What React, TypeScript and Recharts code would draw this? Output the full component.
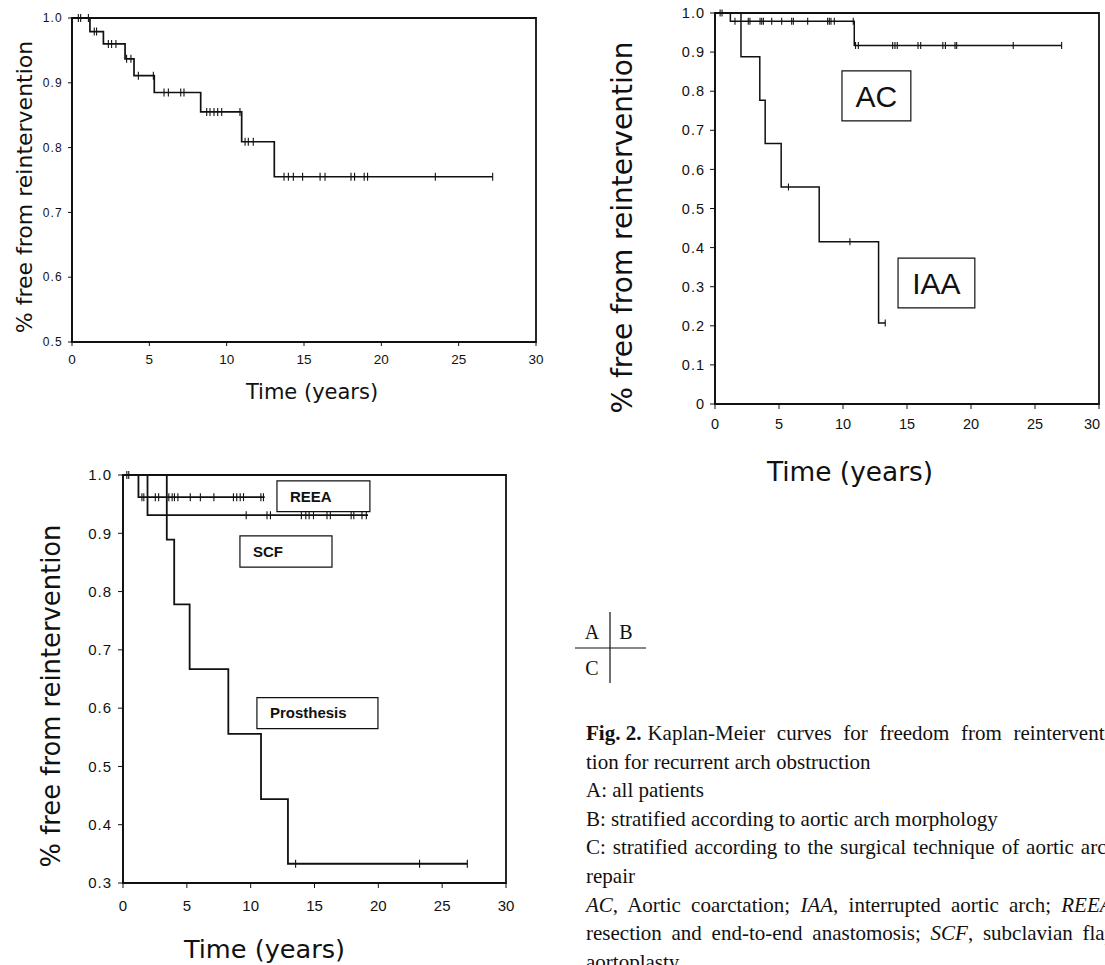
import React from "react";
import { ComposedChart, Line, Scatter, XAxis, YAxis, ReferenceArea } from "recharts";

const INK = "#111";
const SANS = "'Liberation Sans', Arial, sans-serif";
const TITLE = "'DejaVu Sans', Verdana, sans-serif";
const SERIF = "'Liberation Serif', 'Times New Roman', serif";

const yearTicks = [0, 5, 10, 15, 20, 25, 30];
const ticksA = [0.5, 0.6, 0.7, 0.8, 0.9, 1.0];
const ticksB = [0, 0.1, 0.2, 0.3, 0.4, 0.5, 0.6, 0.7, 0.8, 0.9, 1.0];
const ticksC = [0.3, 0.4, 0.5, 0.6, 0.7, 0.8, 0.9, 1.0];

// A: all patients
const allTimes = [0, 1.16, 2.03, 3.43, 4.01, 5.32, 8.32, 10.97, 13.08, 27.2];
const allSurv = [1.0, 0.979, 0.96, 0.937, 0.911, 0.885, 0.855, 0.809, 0.755, 0.755];
const allCensored = [
  0.41, 0.56, 1.06, 1.44, 1.59, 2.35, 2.56, 2.84, 3.53, 3.81, 4.29, 5.26, 5.95, 6.23, 7.03, 7.24,
  8.71, 8.92, 9.18, 9.42, 9.68, 10.86, 11.19, 11.4, 11.72, 13.71, 13.99, 14.31, 14.91, 16.04,
  16.36, 18.04, 18.27, 18.89, 19.11, 23.49, 27.2,
];

// B: aortic coarctation / interrupted aortic arch
const acTimes = [0, 1.2, 10.88, 27.08];
const acSurv = [1.0, 0.979, 0.917, 0.917];
const acCensored = [
  0.4, 0.55, 1.56, 2.6, 2.73, 3.52, 3.65, 3.78, 4.43, 5.21, 5.99, 6.12, 7.24, 8.8, 8.93, 9.06,
  9.32, 10.8, 10.98, 11.2, 13.88, 14.06, 14.24, 15.86, 16.07, 17.8, 18.0, 18.75, 18.88, 23.3, 27.08,
];
const iaaTimes = [0, 2.03, 3.5, 3.92, 5.17, 8.14, 12.78, 13.3];
const iaaSurv = [1.0, 0.888, 0.777, 0.666, 0.555, 0.415, 0.207, 0.207];
const iaaCensored = [5.74, 10.54, 13.3];

// C: surgical technique
const reeaTimes = [0, 1.21, 11.1];
const reeaSurv = [1.0, 0.962, 0.962];
const reeaCensored = [
  0.3, 0.45, 1.48, 1.63, 2.53, 2.79, 3.59, 3.85, 4.03, 4.3, 5.27, 6.06, 7.12, 8.65, 8.91, 9.18,
  9.44, 10.8, 11.0,
];
const scfTimes = [0, 1.92, 19.19];
const scfSurv = [1.0, 0.931, 0.931];
const scfCensored = [9.65, 11.28, 11.55, 13.97, 14.32, 14.58, 14.92, 15.98, 16.24, 17.87, 18.08, 18.72, 19.06];
const prosTimes = [0, 3.43, 4.01, 5.22, 8.25, 10.81, 12.92, 26.97];
const prosSurv = [1.0, 0.889, 0.778, 0.667, 0.556, 0.444, 0.333, 0.333];
const prosCensored = [13.52, 23.23, 26.97];

// boxed labels (data coords)
const notesB = [
  { text: "AC", x1: 9.92, x2: 15.3, y1: 0.724, y2: 0.852 },
  { text: "IAA", x1: 14.3, x2: 20.3, y1: 0.246, y2: 0.373 },
];
const notesC = [
  { text: "REEA", x1: 12.06, x2: 19.34, y1: 0.937, y2: 0.99 },
  { text: "SCF", x1: 9.16, x2: 16.37, y1: 0.842, y2: 0.8955 },
  { text: "Prosthesis", x1: 10.49, x2: 19.97, y1: 0.565, y2: 0.618 },
];

type Seg = { text: string; b?: boolean; i?: boolean; dx?: number };
const caption: Seg[][] = [
  [{ text: "Fig. 2.", b: true }, { text: "Kaplan-Meier curves for freedom from reintervention", dx: 6 }],
  [{ text: "tion for recurrent arch obstruction" }],
  [{ text: "A: all patients" }],
  [{ text: "B: stratified according to aortic arch morphology" }],
  [{ text: "C: stratified according to the surgical technique of aortic arch" }],
  [{ text: "repair" }],
  [
    { text: "AC", i: true },
    { text: ", Aortic coarctation; " },
    { text: "IAA", i: true },
    { text: ", interrupted aortic arch; " },
    { text: "REEA", i: true },
    { text: "," },
  ],
  [{ text: "resection and end-to-end anastomosis; " }, { text: "SCF", i: true }, { text: ", subclavian flap" }],
  [{ text: "aortoplasty." }],
];
// the printed caption is justified: extra space between words per line
const captionWordGap = [6.4, 0, 0, 0, 1.7, 0, 5, 4.5, 0];

type Pt = { t: number; s: number };
const toSteps = (times: number[], surv: number[]): Pt[] => times.map((t, i) => ({ t, s: surv[i] }));
const toMarks = (cens: number[], times: number[], surv: number[]): Pt[] =>
  cens.map((t) => {
    let s = surv[0];
    times.forEach((tt, i) => {
      if (tt <= t) s = surv[i];
    });
    return { t, s };
  });

const censorTick = (h: number) => (props: any) =>
  <line x1={props.cx} x2={props.cx} y1={props.cy - h} y2={props.cy + h} stroke={INK} strokeWidth={1.1} />;

type Curve = { steps: Pt[]; marks: Pt[] };
type Note = { text: string; x1: number; x2: number; y1: number; y2: number };

type PanelProps = {
  left: number;
  top: number;
  width: number;
  height: number;
  margin: { top: number; right: number; bottom: number; left: number };
  yWidth: number;
  xHeight: number;
  yDomain: [number, number];
  yTicks: number[];
  curves: Curve[];
  notes?: Note[];
  noteStyle?: any;
  notePos?: any;
  xTick: { size: number; margin: number; font: number; maxX?: number };
  yTick: { size: number; margin: number; font: number; spacing: number };
  xTitle: { font: number; offset: number; dx: number };
  yTitle: { font: number; offset: number; dy: number };
  lineW: number;
  markH: number;
};

function KMPanel(p: PanelProps) {
  const fmt = (v: number) => (v === 0 ? "0" : v.toFixed(1));
  const maxX = p.xTick.maxX ?? 1e9;
  const xTickLabel = (tp: any) => (
    <text
      x={Math.min(tp.x, maxX)}
      y={tp.y}
      dy="0.71em"
      textAnchor="middle"
      fontSize={p.xTick.font}
      fontFamily={SANS}
      fill={INK}
    >
      {tp.payload.value}
    </text>
  );
  return (
    <div style={{ position: "absolute", left: p.left, top: p.top }}>
      <ComposedChart width={p.width} height={p.height} margin={p.margin}>
        <XAxis
          type="number"
          dataKey="t"
          domain={[0, 30]}
          ticks={yearTicks}
          interval={0}
          height={p.xHeight}
          tickSize={p.xTick.size}
          tickMargin={p.xTick.margin}
          axisLine={{ stroke: INK, strokeWidth: 1.8 }}
          tickLine={{ stroke: INK }}
          tick={xTickLabel}
          label={{
            value: "Time (years)",
            position: "insideBottom",
            offset: p.xTitle.offset,
            dx: p.xTitle.dx,
            fontSize: p.xTitle.font,
            fontFamily: TITLE,
            fill: INK,
          }}
        />
        <YAxis
          type="number"
          dataKey="s"
          domain={p.yDomain}
          ticks={p.yTicks}
          interval={0}
          width={p.yWidth}
          tickSize={p.yTick.size}
          tickMargin={p.yTick.margin}
          tickFormatter={fmt}
          axisLine={{ stroke: INK, strokeWidth: 1.8 }}
          tickLine={{ stroke: INK }}
          tick={{ fontSize: p.yTick.font, fontFamily: SANS, fill: INK, letterSpacing: p.yTick.spacing }}
          label={{
            value: "% free from reintervention",
            angle: -90,
            position: "insideLeft",
            offset: p.yTitle.offset,
            dy: p.yTitle.dy,
            fontSize: p.yTitle.font,
            fontFamily: TITLE,
            fill: INK,
            style: { textAnchor: "middle" },
          }}
        />
        <ReferenceArea x1={0} x2={30} y1={p.yDomain[0]} y2={p.yDomain[1]} fill="none" stroke={INK} strokeWidth={1.8} />
        {(p.notes || []).map((n) => (
          <ReferenceArea
            key={n.text}
            x1={n.x1}
            x2={n.x2}
            y1={n.y1}
            y2={n.y2}
            fill="#fff"
            fillOpacity={1}
            stroke={INK}
            strokeWidth={1.2}
            label={{ value: n.text, position: p.notePos, offset: 13, fill: INK, ...p.noteStyle }}
          />
        ))}
        {p.curves.map((c, i) => (
          <Line
            key={"l" + i}
            data={c.steps}
            dataKey="s"
            type="stepAfter"
            stroke={INK}
            strokeWidth={p.lineW}
            dot={false}
            activeDot={false}
            isAnimationActive={false}
          />
        ))}
        {p.curves.map((c, i) => (
          <Scatter key={"c" + i} data={c.marks} shape={censorTick(p.markH)} isAnimationActive={false} />
        ))}
      </ComposedChart>
    </div>
  );
}

export default function App() {
  const curvesA = [{ steps: toSteps(allTimes, allSurv), marks: toMarks(allCensored, allTimes, allSurv) }];
  const curvesB = [
    { steps: toSteps(acTimes, acSurv), marks: toMarks(acCensored, acTimes, acSurv) },
    { steps: toSteps(iaaTimes, iaaSurv), marks: toMarks(iaaCensored, iaaTimes, iaaSurv) },
  ];
  const curvesC = [
    { steps: toSteps(reeaTimes, reeaSurv), marks: toMarks(reeaCensored, reeaTimes, reeaSurv) },
    { steps: toSteps(scfTimes, scfSurv), marks: toMarks(scfCensored, scfTimes, scfSurv) },
    { steps: toSteps(prosTimes, prosSurv), marks: toMarks(prosCensored, prosTimes, prosSurv) },
  ];

  return (
    <div
      style={{
        position: "fixed",
        left: 0,
        top: 0,
        width: 1105,
        height: 965,
        overflow: "hidden",
        background: "#fff",
      }}
    >
      <svg width={1105} height={965} style={{ position: "absolute", left: 0, top: 0 }}>
        {/* panel key */}
        <g fontFamily={SERIF} fontSize={20} fill={INK} textAnchor="middle">
          <text x={592} y={639}>A</text>
          <text x={626} y={639}>B</text>
          <text x={592} y={675}>C</text>
        </g>
        <line x1={610} x2={610} y1={612} y2={683} stroke={INK} strokeWidth={1.2} />
        <line x1={575} x2={646} y1={648} y2={648} stroke={INK} strokeWidth={1.2} />
        <g fontFamily={SERIF} fontSize={21} fill={INK} style={{ whiteSpace: "pre" }}>
          {caption.map((line, li) => (
            <text key={li} x={586} y={740 + li * 28.6}>
              {line.map((s, si) => (
                <tspan
                  key={si}
                  dx={s.dx}
                  wordSpacing={s.b ? 0 : captionWordGap[li]}
                  fontWeight={s.b ? "bold" : undefined}
                  fontStyle={s.i ? "italic" : undefined}
                >
                  {s.text}
                </tspan>
              ))}
            </text>
          ))}
        </g>
      </svg>

      <KMPanel
        left={0}
        top={0}
        width={560}
        height={420}
        margin={{ top: 18, right: 24, bottom: 8, left: 0 }}
        yWidth={72}
        xHeight={70}
        yDomain={[0.5, 1]}
        yTicks={ticksA}
        curves={curvesA}
        xTick={{ size: 4, margin: 8, font: 13.5 }}
        yTick={{ size: 4, margin: 5, font: 12, spacing: 1.2 }}
        xTitle={{ font: 21, offset: 13, dx: 8 }}
        yTitle={{ font: 22, offset: 24, dy: 7 }}
        lineW={1.7}
        markH={4}
      />

      <KMPanel
        left={590}
        top={0}
        width={515}
        height={500}
        margin={{ top: 13, right: 6, bottom: 16, left: 0 }}
        yWidth={125}
        xHeight={80}
        yDomain={[0, 1]}
        yTicks={ticksB}
        curves={curvesB}
        notes={notesB}
        notePos="center"
        noteStyle={{ fontSize: 30, fontFamily: SANS }}
        xTick={{ size: 5, margin: 10, font: 14.5, maxX: 502 }}
        yTick={{ size: 5, margin: 5, font: 14.5, spacing: 1 }}
        xTitle={{ font: 26.4, offset: 3, dx: -57 }}
        yTitle={{ font: 28, offset: 32, dy: 19 }}
        lineW={1.5}
        markH={3.5}
      />

      <KMPanel
        left={0}
        top={420}
        width={540}
        height={545}
        margin={{ top: 55, right: 34, bottom: 2, left: 0 }}
        yWidth={123}
        xHeight={80}
        yDomain={[0.3, 1]}
        yTicks={ticksC}
        curves={curvesC}
        notes={notesC}
        notePos="insideLeft"
        noteStyle={{ fontSize: 15, fontWeight: "bold", fontFamily: SANS }}
        xTick={{ size: 5, margin: 12, font: 15 }}
        yTick={{ size: 5, margin: 6, font: 15, spacing: 1 }}
        xTitle={{ font: 25.6, offset: 5, dx: -50 }}
        yTitle={{ font: 25.8, offset: 51, dy: 17 }}
        lineW={1.8}
        markH={4}
      />
    </div>
  );
}
